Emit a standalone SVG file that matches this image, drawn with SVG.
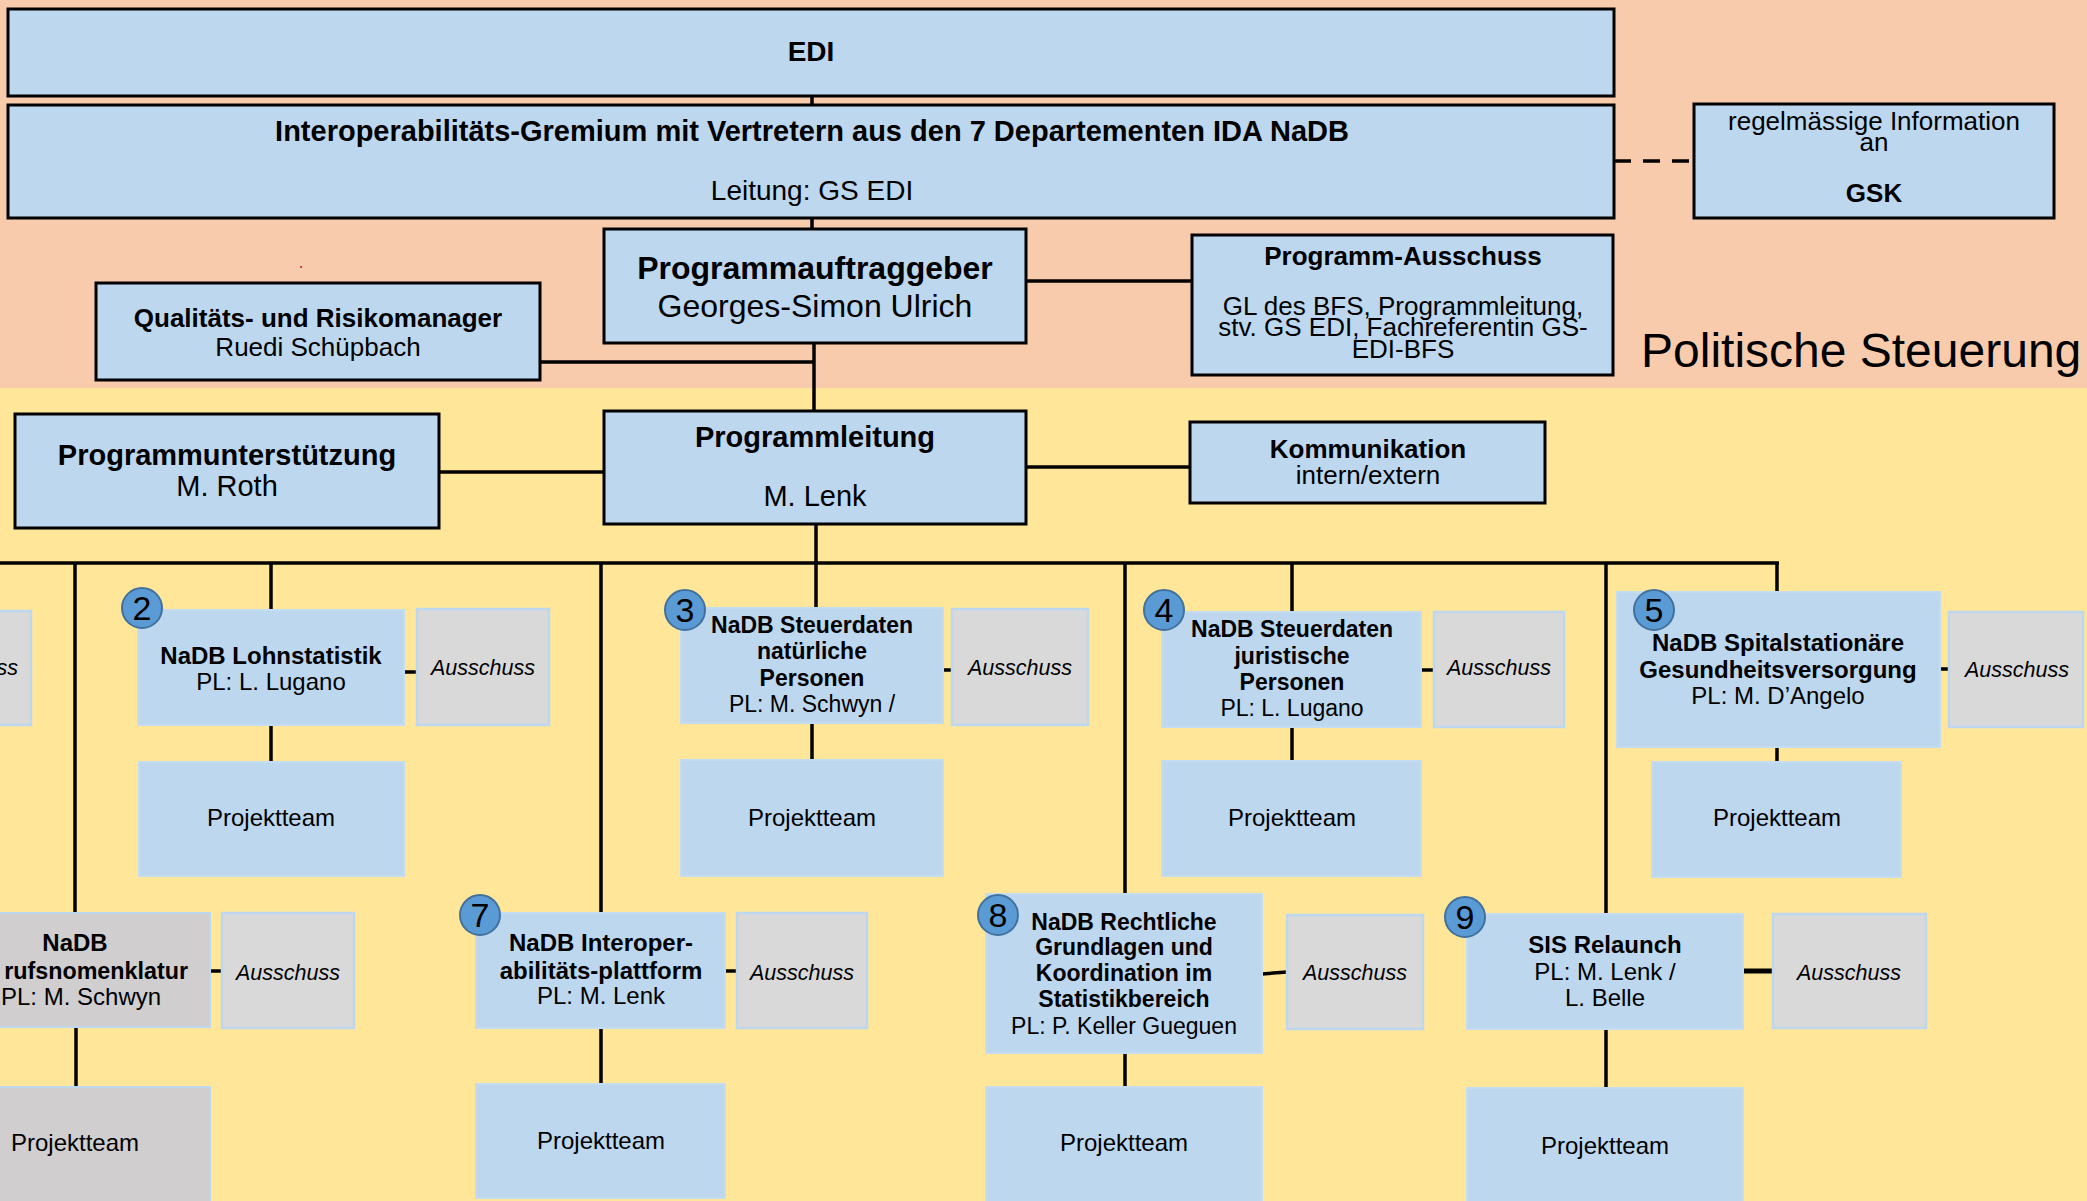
<svg xmlns="http://www.w3.org/2000/svg" width="2087" height="1201" viewBox="0 0 2087 1201">
<style>
text{font-family:"Liberation Sans",Arial,sans-serif;fill:#000;text-anchor:middle}
.b{font-weight:bold}
.top{fill:#BDD7EE;stroke:#000;stroke-width:3}
.pb{fill:#BDD7EE;stroke:#C5DBEF;stroke-width:2}
.au{fill:#D9D9D9;stroke:#BDD7EE;stroke-width:2.5}
.gr{fill:#D0CECE;stroke:#BDD7EE;stroke-width:2}
.ai{font-style:italic;font-size:21.5px}
.t24{font-size:24px}
.t23{font-size:23px}
.t26{font-size:26px}
.bd{fill:#5B9BD5;stroke:#41719C;stroke-width:2}
.bn{font-size:34px}
#connectors line{stroke:#000;stroke-width:3.5;fill:none}
</style>
<rect x="0" y="0" width="2087" height="388" fill="#F8CBAD"/>
<rect x="0" y="388" width="2087" height="813" fill="#FFE699"/>
<rect x="300" y="266" width="2" height="2" fill="#E04040"/>
<text x="1641" y="367" style="font-size:48px;text-anchor:start">Politische Steuerung</text>

<g id="connectors">
<line x1="812" y1="96" x2="812" y2="105"/>
<line x1="812" y1="218" x2="812" y2="229"/>
<line x1="1026" y1="281" x2="1192" y2="281"/>
<line x1="540" y1="362" x2="814" y2="362"/>
<line x1="814" y1="343" x2="814" y2="411"/>
<line x1="1614" y1="161" x2="1694" y2="161" stroke-dasharray="17 12"/>
<line x1="439" y1="472" x2="604" y2="472"/>
<line x1="1026" y1="467" x2="1190" y2="467"/>
<line x1="816" y1="524" x2="816" y2="608"/>
<line x1="0" y1="563" x2="1779" y2="563"/>
<line x1="1777" y1="563" x2="1777" y2="592"/>
<line x1="75" y1="563" x2="75" y2="913"/>
<line x1="271" y1="563" x2="271" y2="610"/>
<line x1="601" y1="563" x2="601" y2="913"/>
<line x1="1125" y1="563" x2="1125" y2="894"/>
<line x1="1292" y1="563" x2="1292" y2="612"/>
<line x1="1606" y1="563" x2="1606" y2="914"/>
<line x1="271" y1="725" x2="271" y2="762"/>
<line x1="812" y1="723" x2="812" y2="760"/>
<line x1="1292" y1="727" x2="1292" y2="761"/>
<line x1="1777" y1="747" x2="1777" y2="762"/>
<line x1="76" y1="1027" x2="76" y2="1087"/>
<line x1="601" y1="1028" x2="601" y2="1084"/>
<line x1="1125" y1="1053" x2="1125" y2="1087"/>
<line x1="1606" y1="1029" x2="1606" y2="1088"/>
<line x1="404" y1="672" x2="417" y2="672"/>
<line x1="943" y1="670" x2="952" y2="670"/>
<line x1="1421" y1="670" x2="1434" y2="670"/>
<line x1="1940" y1="669" x2="1949" y2="669"/>
<line x1="210" y1="971" x2="222" y2="971"/>
<line x1="725" y1="971" x2="737" y2="971"/>
<line x1="1262" y1="974" x2="1287" y2="972"/>
<line x1="1743" y1="971" x2="1773" y2="971" style="stroke-width:5"/>
</g>

<g id="edi"><rect class="top" x="8" y="9" width="1606" height="87"/><text class="b" x="811" y="61" style="font-size:28px">EDI</text></g>
<g id="gremium"><rect class="top" x="8" y="105" width="1606" height="113"/>
<text class="b" x="812" y="141" style="font-size:29px">Interoperabilitäts-Gremium mit Vertretern aus den 7 Departementen IDA NaDB</text>
<text x="812" y="200" style="font-size:28px">Leitung: GS EDI</text></g>
<g id="gsk"><rect class="top" x="1694" y="104" width="360" height="114"/>
<text class="t26" x="1874" y="130">regelmässige Information</text>
<text class="t26" x="1874" y="151">an</text>
<text class="t26 b" x="1874" y="202">GSK</text></g>
<g id="auftraggeber"><rect class="top" x="604" y="229" width="422" height="114"/>
<text class="b" x="815" y="279" style="font-size:32px">Programmauftraggeber</text>
<text x="815" y="317" style="font-size:32px">Georges-Simon Ulrich</text></g>
<g id="programmausschuss"><rect class="top" x="1192" y="235" width="421" height="140"/>
<text class="t26 b" x="1403" y="265">Programm-Ausschuss</text>
<text class="t26" x="1403" y="315">GL des BFS, Programmleitung,</text>
<text class="t26" x="1403" y="336">stv. GS EDI, Fachreferentin GS-</text>
<text class="t26" x="1403" y="358">EDI-BFS</text></g>
<g id="qualitaet"><rect class="top" x="96" y="283" width="444" height="97"/>
<text class="t26 b" x="318" y="327">Qualitäts- und Risikomanager</text>
<text class="t26" x="318" y="356">Ruedi Schüpbach</text></g>
<g id="unterstuetzung"><rect class="top" x="15" y="414" width="424" height="114"/>
<text class="b" x="227" y="465" style="font-size:29px">Programmunterstützung</text>
<text x="227" y="496" style="font-size:29px">M. Roth</text></g>
<g id="programmleitung"><rect class="top" x="604" y="411" width="422" height="113"/>
<text class="b" x="815" y="447" style="font-size:29px">Programmleitung</text>
<text x="815" y="506" style="font-size:29px">M. Lenk</text></g>
<g id="kommunikation"><rect class="top" x="1190" y="422" width="355" height="81"/>
<text class="t26 b" x="1368" y="458">Kommunikation</text>
<text class="t26" x="1368" y="484">intern/extern</text></g>

<g id="ausschuss1"><rect class="au" x="-101" y="611" width="132" height="114"/><text class="ai" x="18" y="675" style="text-anchor:end">ss</text></g>

<g id="p2"><rect class="pb" x="138" y="610" width="266" height="115"/>
<text class="t24 b" x="271" y="664">NaDB Lohnstatistik</text>
<text class="t24" x="271" y="690">PL: L. Lugano</text>
<circle class="bd" cx="142" cy="608" r="20"/><text class="bn" x="142" y="620">2</text></g>
<g id="a2"><rect class="au" x="417" y="609" width="132" height="116"/><text class="ai" x="483" y="675">Ausschuss</text></g>
<g id="t2"><rect class="pb" x="139" y="762" width="265" height="114"/><text class="t24" x="271" y="826">Projektteam</text></g>

<g id="p3"><rect class="pb" x="681" y="608" width="262" height="115"/>
<text class="t23 b" x="812" y="633">NaDB Steuerdaten</text>
<text class="t23 b" x="812" y="659">natürliche</text>
<text class="t23 b" x="812" y="686">Personen</text>
<text class="t23" x="812" y="712">PL: M. Schwyn /</text>
<circle class="bd" cx="685" cy="610" r="20"/><text class="bn" x="685" y="622">3</text></g>
<g id="a3"><rect class="au" x="952" y="609" width="136" height="116"/><text class="ai" x="1020" y="675">Ausschuss</text></g>
<g id="t3"><rect class="pb" x="681" y="760" width="262" height="116"/><text class="t24" x="812" y="826">Projektteam</text></g>

<g id="p4"><rect class="pb" x="1162" y="612" width="259" height="115"/>
<text class="t23 b" x="1292" y="637">NaDB Steuerdaten</text>
<text class="t23 b" x="1292" y="664">juristische</text>
<text class="t23 b" x="1292" y="690">Personen</text>
<text class="t23" x="1292" y="716">PL: L. Lugano</text>
<circle class="bd" cx="1164" cy="610" r="20"/><text class="bn" x="1164" y="622">4</text></g>
<g id="a4"><rect class="au" x="1434" y="612" width="130" height="115"/><text class="ai" x="1499" y="675">Ausschuss</text></g>
<g id="t4"><rect class="pb" x="1162" y="761" width="259" height="115"/><text class="t24" x="1292" y="826">Projektteam</text></g>

<g id="p5"><rect class="pb" x="1617" y="592" width="323" height="155"/>
<text class="t24 b" x="1778" y="651">NaDB Spitalstationäre</text>
<text class="t24 b" x="1778" y="678">Gesundheitsversorgung</text>
<text class="t24" x="1778" y="704">PL: M. D’Angelo</text>
<circle class="bd" cx="1654" cy="610" r="20"/><text class="bn" x="1654" y="622">5</text></g>
<g id="a5"><rect class="au" x="1949" y="612" width="134" height="115"/><text class="ai" x="2017" y="677">Ausschuss</text></g>
<g id="t5"><rect class="pb" x="1652" y="762" width="249" height="115"/><text class="t24" x="1777" y="826">Projektteam</text></g>

<g id="p6"><rect class="gr" x="-60" y="913" width="270" height="114"/>
<text class="t24 b" x="75" y="951">NaDB</text>
<text class="b" x="188" y="979" style="text-anchor:end;font-size:23.3px">rufsnomenklatur</text>
<text class="t24" x="1" y="1005" style="text-anchor:start">PL: M. Schwyn</text></g>
<g id="a6"><rect class="au" x="222" y="913" width="132" height="115"/><text class="ai" x="288" y="980">Ausschuss</text></g>
<g id="t6"><rect class="gr" x="-60" y="1087" width="270" height="130"/><text class="t24" x="75" y="1151">Projektteam</text></g>

<g id="p7"><rect class="pb" x="476" y="913" width="249" height="115"/>
<text class="t24 b" x="601" y="951">NaDB Interoper-</text>
<text class="t24 b" x="601" y="979">abilitäts-plattform</text>
<text class="t24" x="601" y="1004">PL: M. Lenk</text>
<circle class="bd" cx="480" cy="915" r="20"/><text class="bn" x="480" y="927">7</text></g>
<g id="a7"><rect class="au" x="737" y="913" width="130" height="115"/><text class="ai" x="802" y="980">Ausschuss</text></g>
<g id="t7"><rect class="pb" x="476" y="1084" width="249" height="114"/><text class="t24" x="601" y="1149">Projektteam</text></g>

<g id="p8"><rect class="pb" x="986" y="894" width="276" height="159"/>
<text class="t23 b" x="1124" y="930">NaDB Rechtliche</text>
<text class="t23 b" x="1124" y="955">Grundlagen und</text>
<text class="t23 b" x="1124" y="981">Koordination im</text>
<text class="t23 b" x="1124" y="1007">Statistikbereich</text>
<text class="t23" x="1124" y="1034">PL: P. Keller Gueguen</text>
<circle class="bd" cx="998" cy="915" r="20"/><text class="bn" x="998" y="927">8</text></g>
<g id="a8"><rect class="au" x="1287" y="915" width="136" height="114"/><text class="ai" x="1355" y="980">Ausschuss</text></g>
<g id="t8"><rect class="pb" x="986" y="1087" width="276" height="130"/><text class="t24" x="1124" y="1151">Projektteam</text></g>

<g id="p9"><rect class="pb" x="1467" y="914" width="276" height="115"/>
<text class="t24 b" x="1605" y="953">SIS Relaunch</text>
<text class="t24" x="1605" y="980">PL: M. Lenk /</text>
<text class="t24" x="1605" y="1006">L. Belle</text>
<circle class="bd" cx="1465" cy="917" r="20"/><text class="bn" x="1465" y="929">9</text></g>
<g id="a9"><rect class="au" x="1773" y="914" width="153" height="114"/><text class="ai" x="1849" y="980">Ausschuss</text></g>
<g id="t9"><rect class="pb" x="1467" y="1088" width="276" height="130"/><text class="t24" x="1605" y="1154">Projektteam</text></g>
</svg>
